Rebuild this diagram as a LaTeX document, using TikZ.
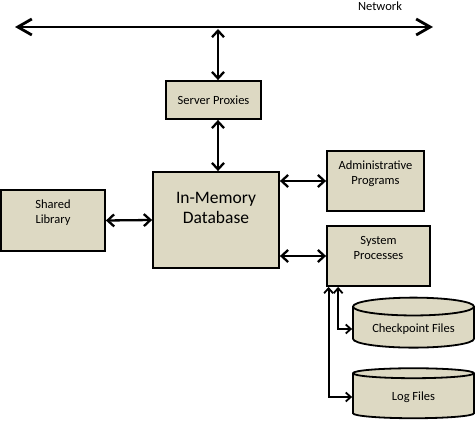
\documentclass[tikz,border=0pt]{standalone}
\usepackage{fontspec}
\setmainfont{Carlito}
\usetikzlibrary{arrows.meta,shapes.geometric}
\definecolor{tan}{RGB}{221,217,195}

\begin{document}
\begin{tikzpicture}[x=1pt,y=-1pt,
  box/.style={draw,line width=1.8pt,fill=tan,align=center,font=\fontsize{12.5}{15}\selectfont},
  drum/.style={draw,line width=1.8pt,fill=tan,cylinder,shape border rotate=90,aspect=0.2,
    minimum width=121,minimum height=50,font=\fontsize{12.5}{15}\selectfont},
  bus/.style={{Straight Barb[length=14pt,width=16pt]}-{Straight Barb[length=14pt,width=16pt]},line width=2.8pt},
  link/.style={{Straight Barb[length=6.5pt,width=12pt]}-{Straight Barb[length=6.5pt,width=12pt]},line width=2.3pt},
  tiny/.style={{Straight Barb[length=5pt,width=9pt]}-{Straight Barb[length=5pt,width=9pt]},line width=1.8pt}]
\useasboundingbox (0,0) rectangle (475,422);

\node[font=\fontsize{12.5}{15}\selectfont] (netname) at (380,6) {Network};
\node[box,minimum width=95,minimum height=38] (proxy) at (213.5,100) {Server Proxies};
\node[box,minimum width=126,minimum height=96,text depth=25,font=\fontsize{17.5}{20}\selectfont] (db) at (216,220) {In-Memory\\Database};
\node[box,minimum width=104,minimum height=61,text depth=17] (lib) at (53,220.5) {Shared\\Library};
\node[box,minimum width=97,minimum height=60,text depth=16] (admin) at (375.5,181) {Administrative\\Programs};
\node[box,minimum width=103,minimum height=60,text depth=16] (sys) at (378.5,256) {System\\Processes};
\node[drum] (ckpt) at (413.5,329) {Checkpoint Files};
\node[drum] (log) at (413.5,397) {Log Files};

\coordinate (netL) at (15,27);
\coordinate (netR) at (433,27);
\coordinate (tap) at (218,29);
\coordinate (c1) at ([xshift=12pt]sys.south west);
\coordinate (c2) at ([xshift=2.5pt]sys.south west);

\draw[bus] (netL) -- (netR);
\draw[link] (tap) -- (tap |- proxy.north);
\draw[link] (proxy.south -| tap) -- (db.north -| tap);
\draw[link] (lib.east) -- (db.west);
\draw[link] (db.east |- admin) -- (admin.west);
\draw[link] (db.east |- sys) -- (sys.west);
\draw[tiny] (c1) |- (ckpt.west);
\draw[tiny] (c2) |- (log.west);
\end{tikzpicture}
\end{document}
